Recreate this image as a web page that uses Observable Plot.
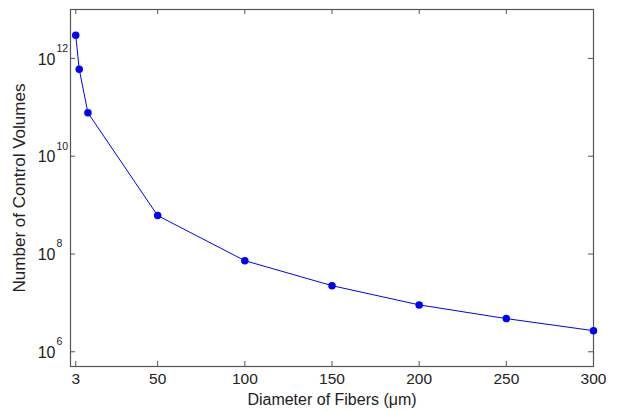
<!DOCTYPE html>
<html>
<head>
<meta charset="utf-8">
<script src="https://cdn.jsdelivr.net/npm/d3@7"></script>
<script src="https://cdn.jsdelivr.net/npm/@observablehq/plot@0.6"></script>
<style>
  body { margin: 0; background: #fff; }
  svg { font-family: Arial, "Liberation Sans", sans-serif; }
</style>
</head>
<body>
<div id="chart"></div>
<script>
const diameters = [3, 5, 10, 50, 100, 150, 200, 250, 300];
const volumes = [2.97e12, 6.0e11, 7.7e10, 6.1e8, 7.3e7, 2.25e7, 9.1e6, 4.77e6, 2.7e6];
const xTicks = [3, 50, 100, 150, 200, 250, 300];
const yTicks = [1e6, 1e8, 1e10, 1e12];
const yExponents = ["6", "8", "10", "12"];

const data = diameters.map((d, i) => ({d, v: volumes[i]}));
const yTickData = yTicks.map((t, i) => ({t, e: yExponents[i]}));

const W = 618, H = 412;
const mL = 70, mR = 25, mT = 9, mB = 46;
const innerW = W - mL - mR, innerH = H - mT - mB;
const tickLen = 5;

const axisColor = "#555";
const textColor = "#222";

const chart = Plot.plot({
  width: W,
  height: H,
  marginLeft: mL,
  marginRight: mR,
  marginTop: mT,
  marginBottom: mB,
  style: {fontSize: "15.5px", fontFamily: "Arial, 'Liberation Sans', sans-serif", color: textColor},
  x: {domain: [0, 300]},
  y: {type: "log", domain: [5e5, 1e13]},
  marks: [
    Plot.frame({stroke: axisColor, strokeWidth: 1.2}),
    // inward ticks on all four sides
    Plot.tickX(xTicks, {x: d => d, insetTop: innerH - tickLen, stroke: axisColor}),
    Plot.tickX(xTicks, {x: d => d, insetBottom: innerH - tickLen, stroke: axisColor}),
    Plot.tickY(yTicks, {y: d => d, insetRight: innerW - tickLen, stroke: axisColor}),
    Plot.tickY(yTicks, {y: d => d, insetLeft: innerW - tickLen, stroke: axisColor}),
    // x tick labels
    Plot.axisX(xTicks, {anchor: "bottom", tickSize: 0, tickPadding: 6, tickFormat: d => String(d), fill: textColor, label: null}),
    // axis titles
    Plot.axisX([], {anchor: "bottom", tickSize: 0, fontSize: 16, fill: textColor,
      label: "Diameter of Fibers (μm)", labelAnchor: "center", labelArrow: "none", labelOffset: 38, dx: 4}),
    Plot.axisY([], {anchor: "left", tickSize: 0, fontSize: 17, fill: textColor,
      label: "Number of Control Volumes", labelAnchor: "center", labelArrow: "none", labelOffset: 58}),
    // y tick labels 10^n
    Plot.text(yTickData, {y: "t", text: () => "10", frameAnchor: "left", textAnchor: "end", dx: -15, dy: 1, fill: textColor, fontSize: 16}),
    Plot.text(yTickData, {y: "t", text: "e", frameAnchor: "left", textAnchor: "start", dx: -14, dy: -10, fill: textColor, fontSize: 10.5}),
    // data
    Plot.line(data, {x: "d", y: "v", stroke: "#0000ff", strokeWidth: 1}),
    Plot.dot(data, {x: "d", y: "v", r: 3, fill: "#0000ff", stroke: "#0000ff"})
  ]
});
document.getElementById("chart").appendChild(chart);
</script>
</body>
</html>
